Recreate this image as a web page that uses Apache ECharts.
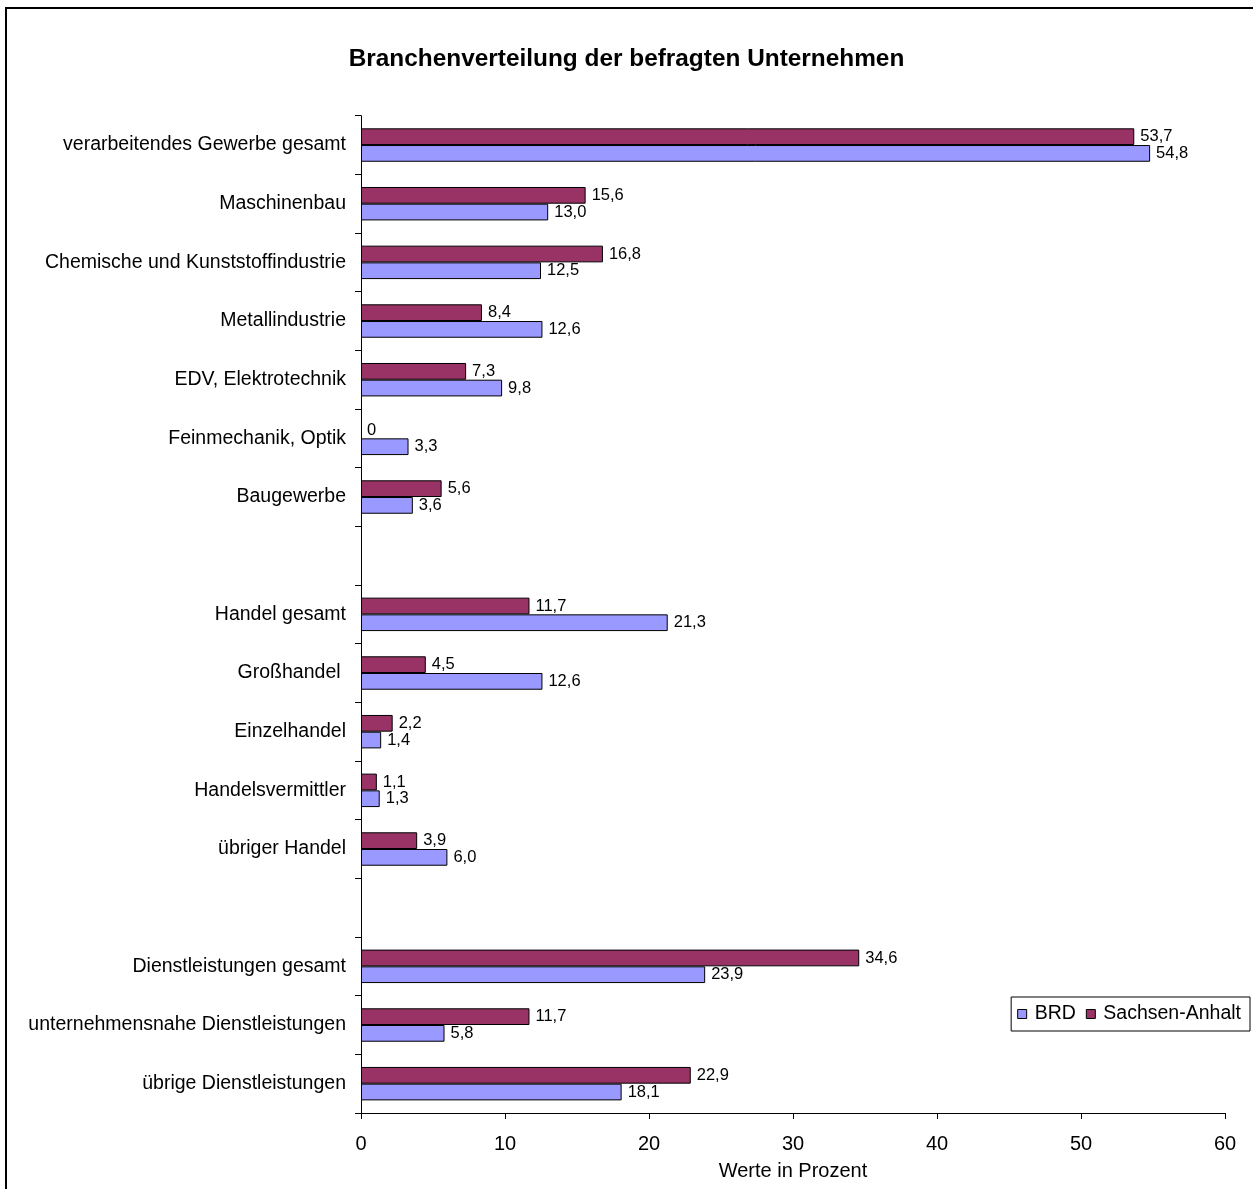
<!DOCTYPE html>
<html><head><meta charset="utf-8">
<script src="https://cdn.jsdelivr.net/npm/echarts@6/dist/echarts.min.js"></script>
<style>html,body{margin:0;padding:0;background:#fff}#c{width:1253px;height:1189px}</style>
</head><body><div id="c"></div>
<script>
const categories = ['verarbeitendes Gewerbe gesamt','Maschinenbau','Chemische und Kunststoffindustrie','Metallindustrie','EDV, Elektrotechnik','Feinmechanik, Optik','Baugewerbe','','Handel gesamt','Großhandel ','Einzelhandel','Handelsvermittler','übriger Handel',' ','Dienstleistungen gesamt','unternehmensnahe Dienstleistungen','übrige Dienstleistungen'];
const sachsenAnhalt = [53.7,15.6,16.8,8.4,7.3,0,5.6,null,11.7,4.5,2.2,1.1,3.9,null,34.6,11.7,22.9];
const brd = [54.8,13.0,12.5,12.6,9.8,3.3,3.6,null,21.3,12.6,1.4,1.3,6.0,null,23.9,5.8,18.1];
const xTicks = [0,10,20,30,40,50,60];

const font = 'Liberation Sans, Arial, sans-serif';
const fmt = p => p.value === 0 ? '0' : p.value.toFixed(1).replace('.', ',');
const toData = arr => arr.map(v => v === 0 ? {value: 0, itemStyle: {borderWidth: 0}} : v);
const chart = echarts.init(document.getElementById('c'));
chart.setOption({
  animation: false,
  textStyle: {fontFamily: font},
  title: {text: 'Branchenverteilung der befragten Unternehmen', left: 'center', top: 42,
    textStyle: {fontFamily: font, fontSize: 24.4, fontWeight: 'bold', color: '#000'}},
  graphic: [{type: 'rect', shape: {x: 6, y: 8, width: 1260, height: 1200}, style: {fill: 'none', stroke: '#000', lineWidth: 2}}],
  legend: {data: ['BRD','Sachsen-Anhalt'], right: 3, top: 997, orient: 'horizontal',
    borderColor: '#000', borderWidth: 1, padding: [7, 9, 7, 6], itemWidth: 9, itemHeight: 9, itemGap: 10,
    icon: 'rect', itemStyle: {borderColor: '#000', borderWidth: 1},
    textStyle: {fontFamily: font, fontSize: 19.5, color: '#000', padding: [0,0,0,3]}},
  grid: {left: 361, right: 28, top: 115.7, bottom: 76},
  xAxis: {type: 'value', min: xTicks[0], max: xTicks[xTicks.length-1], interval: 10,
    name: 'Werte in Prozent', nameLocation: 'middle', nameGap: 48,
    nameTextStyle: {fontFamily: font, fontSize: 20, color: '#000'},
    axisLine: {show: true, lineStyle: {color: '#000'}},
    axisTick: {show: true, length: 6, lineStyle: {color: '#000'}},
    axisLabel: {fontFamily: font, fontSize: 20, color: '#000', margin: 21},
    splitLine: {show: false}},
  yAxis: {type: 'category', data: categories, inverse: true,
    axisLine: {show: true, lineStyle: {color: '#000'}},
    axisTick: {show: true, length: 6, lineStyle: {color: '#000'}},
    axisLabel: {fontFamily: font, fontSize: 19.5, color: '#000', margin: 15, interval: 0}},
  series: [
    {name: 'Sachsen-Anhalt', type: 'bar', data: toData(sachsenAnhalt), barCategoryGap: '43%', barGap: '0%',
      itemStyle: {color: '#993366', borderColor: '#000', borderWidth: 1},
      label: {show: true, position: 'right', distance: 6, formatter: fmt, fontFamily: font, fontSize: 16.5, color: '#000'}},
    {name: 'BRD', type: 'bar', data: toData(brd), barCategoryGap: '43%', barGap: '0%',
      itemStyle: {color: '#9999FF', borderColor: '#000', borderWidth: 1},
      label: {show: true, position: 'right', distance: 6, formatter: fmt, fontFamily: font, fontSize: 16.5, color: '#000'}}
  ]
});
</script></body></html>
